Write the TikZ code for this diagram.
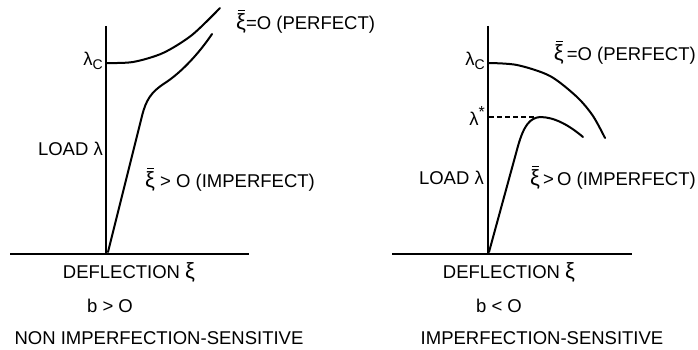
\documentclass[tikz,border=0pt]{standalone}
\usepackage{fontspec}
\setmainfont{Liberation Sans}
\usepackage{tikz}
\usetikzlibrary{positioning}
\newcommand{\xig}{{\fontsize{22}{22}\selectfont ξ}}
\newcommand{\xib}{\rlap{\hspace{2.2pt}\rule[18.5pt]{7pt}{1.3pt}}\xig}
\newcommand{\lamc}{λ\raisebox{-0.35ex}{\fontsize{14}{14}\selectfont C}}
\tikzset{
  axis/.style={line width=2.2pt},
  curve/.style={line width=2pt,line cap=round},
  lbl/.style={inner sep=0pt,font=\fontsize{18.5}{20}\selectfont},
}

\begin{document}
\begin{tikzpicture}[x=1pt,y=-1pt]
  \useasboundingbox (0,0) rectangle (698,350);
  % left: non imperfection-sensitive
  \coordinate (Ltop) at (106,26);
  \coordinate (Lo) at (106,254);
  \draw[axis] (Ltop) -- (Lo);
  \draw[axis] (10,254) -- (249,254);
  \draw[curve] plot[smooth] coordinates {(106,63) (133,62) (163,53) (192,35) (220,8)};
  \draw[curve] (108,252) -- (142,116) .. controls (146,100) and (151,92) .. (165,83)
    .. controls (182,72) and (200,52) .. (212,34);
  \node[lbl,anchor=east] (lamcL) at (103,61) {\lamc};
  \node[lbl,anchor=east] (loadL) at (103,149) {LOAD λ};
  \node[lbl,anchor=west] (perfL) at (236,22) {\xib=O (PERFECT)};
  \node[lbl,anchor=west] (impL) at (145,180) {\xib\ > O (IMPERFECT)};
  \node[lbl] (defL) at (129,272) {DEFLECTION \xig};
  \node[lbl] (bL) at (110,306) {b > O};
  \node[lbl] (sensL) at (159,338) {NON IMPERFECTION-SENSITIVE};
  % right: imperfection-sensitive
  \coordinate (Rtop) at (488,26);
  \coordinate (Ro) at (488,254);
  \draw[axis] (Rtop) -- (Ro);
  \draw[axis] (392,254) -- (632,254);
  \draw[curve] plot[smooth] coordinates {(488,63) (517,65) (550,76) (577,97) (593,116) (605,138)};
  \draw[curve] (489,252) -- (518,146) .. controls (524,125) and (530,118) .. (540,117)
    .. controls (555,117) and (570,126) .. (583,137);
  \coordinate (lstar) at (489,117);
  \coordinate (peak) at (537,117);
  \draw[line width=1.3pt,dash pattern=on 5pt off 3pt] (lstar) -- (peak);
  \node[lbl,anchor=east] (lamcR) at (485,61) {\lamc};
  \node[lbl,anchor=east] (lamsR) at (485,116) {λ\raisebox{0.8ex}{\fontsize{16}{16}\selectfont *}};
  \node[lbl,anchor=east] (loadR) at (484,178) {LOAD λ};
  \node[lbl,anchor=east] (perfR) at (696,53) {\xib\,=O (PERFECT)};
  \node[lbl,anchor=east] (impR) at (696,178) {\xib\,>\,O (IMPERFECT)};
  \node[lbl] (defR) at (509,272) {DEFLECTION \xig};
  \node[lbl] (bR) at (499,306) {b < O};
  \node[lbl] (sensR) at (542,338) {IMPERFECTION-SENSITIVE};
\end{tikzpicture}
\end{document}
